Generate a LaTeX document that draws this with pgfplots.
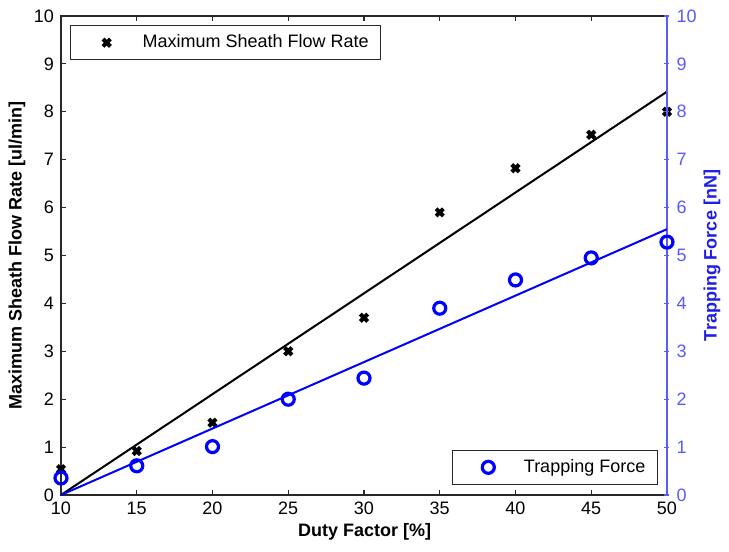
\documentclass[border=0pt]{standalone}
\usepackage{pgfplots}
\pgfplotsset{compat=1.18}
\usepackage{fontspec}
\setmainfont{Liberation Sans}
\definecolor{raxis}{RGB}{90,90,250}
\definecolor{rlabel}{RGB}{30,30,230}
\definecolor{axgray}{RGB}{40,40,40}
\begin{document}
\begin{tikzpicture}[font=\fontsize{9}{11}\selectfont]
\pgfplotsset{
  every axis/.append style={
    scale only axis, width=303pt, height=239.5pt,
    xmin=10, xmax=50, ymin=0, ymax=10,
    tick align=inside, major tick length=2.5pt,
    /pgf/number format/assume math mode=true,
    tick label style={font=\fontsize{9}{11}\selectfont},
    legend cell align=left,
    legend image code/.code={\path (0pt,0pt) (28pt,0pt); \draw[#1] plot[only marks] coordinates {(13pt,0pt)};},
  }
}
\begin{axis}[
  axis line style={axgray, line width=0.6pt},
  every tick/.style={axgray, line width=0.6pt},
  xtick={10,15,...,50}, ytick={0,1,...,10},
  xtick pos=both, ytick pos=left,
  xlabel={Duty Factor [\%]},
  ylabel={Maximum Sheath Flow Rate [ul/min]},
  xlabel style={at={(axis description cs:0.501,-0.0772)}, anchor=center, font=\fontsize{9}{11}\selectfont\bfseries},
  ylabel style={at={(axis description cs:-0.0726,0.5)}, anchor=center, font=\fontsize{9}{11}\selectfont\bfseries},
  legend style={at={(rel axis cs:0.015,0.981)}, anchor=north west, draw=axgray, line width=0.6pt, inner xsep=4pt, inner ysep=2.5pt, font=\fontsize{9}{11}\selectfont},
]
\addplot[black, only marks, mark=x, mark size=2.6pt, line width=2pt] coordinates {
(10,0.54) (15,0.92) (20,1.51) (25,3.0) (30,3.7) (35,5.9) (40,6.82) (45,7.52) (50,8.0)};
\addlegendentry{Maximum Sheath Flow Rate}
\addplot[black, line width=1pt, forget plot] coordinates {(10,0) (50,8.42)};
\coordinate (SW) at (rel axis cs:0,0);
\coordinate (NE) at (rel axis cs:1,1);
\end{axis}
\begin{axis}[
  axis x line=none, axis y line=right,
  y axis line style={raxis, line width=0.6pt, -},
  every tick/.style={raxis, line width=0.6pt},
  ytick={0,1,...,10},
  yticklabel style={raxis},
  ylabel={Trapping Force [nN]},
  ylabel style={at={(axis description cs:1.0743,0.5)}, anchor=center, rlabel, font=\fontsize{9}{11}\selectfont\bfseries},
  legend style={at={(rel axis cs:0.985,0.021)}, anchor=south east, draw=axgray, line width=0.6pt, inner xsep=4pt, inner ysep=2.5pt, font=\fontsize{9}{11}\selectfont},
]
\addplot[blue, only marks, mark=o, mark size=3pt, line width=1.6pt] coordinates {
(10,0.355) (15,0.61) (20,1.01) (25,2.0) (30,2.44) (35,3.9) (40,4.49) (45,4.95) (50,5.28)};
\addlegendentry{Trapping Force}
\addplot[blue, line width=1pt, forget plot] coordinates {(10,0) (50,5.55)};
\end{axis}
\pgfresetboundingbox
\path[use as bounding box] ([shift={(-30.5pt,-28.5pt)}]SW) rectangle ([shift={(31pt,8pt)}]NE);
\end{tikzpicture}
\end{document}
